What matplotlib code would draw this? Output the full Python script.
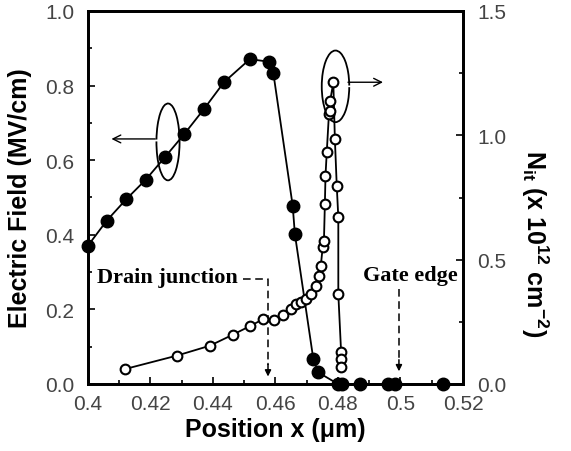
import matplotlib
matplotlib.use("Agg")
import matplotlib.pyplot as plt
from matplotlib.patches import Arc
from matplotlib.ticker import MultipleLocator

plt.rcParams['font.family'] = ['Liberation Sans', 'DejaVu Sans']
plt.rcParams['axes.unicode_minus'] = False

# Electric field (left axis, filled circles)
ef_x = [0.4000, 0.4060, 0.4122, 0.4185, 0.4246, 0.4308, 0.4371, 0.4435, 0.4518,
        0.4579, 0.4593, 0.4655, 0.4662, 0.4721, 0.4737, 0.4800, 0.4812, 0.4870,
        0.4960, 0.4982, 0.5136]
ef_y = [0.371, 0.438, 0.495, 0.548, 0.608, 0.670, 0.737, 0.809, 0.871,
        0.864, 0.834, 0.478, 0.402, 0.067, 0.031, 0.0, 0.0, 0.0,
        0.0, 0.0, 0.0]

# Interface trap density Nit (right axis, open circles)
nit_x = [0.4118, 0.4284, 0.4390, 0.4463, 0.4520, 0.4561, 0.4596, 0.4625, 0.4649,
         0.4665, 0.4682, 0.4697, 0.4713, 0.4729, 0.4739, 0.4745, 0.4751, 0.4755,
         0.4758, 0.4760, 0.4764, 0.4771, 0.4773, 0.4775, 0.4785, 0.4790, 0.4796,
         0.4801, 0.4801, 0.4810, 0.4810, 0.4810]
nit_y = [0.060, 0.114, 0.154, 0.198, 0.234, 0.261, 0.257, 0.277, 0.302,
         0.322, 0.329, 0.342, 0.362, 0.395, 0.436, 0.476, 0.550, 0.576,
         0.724, 0.838, 0.932, 1.086, 1.099, 1.139, 1.213, 0.985, 0.797,
         0.670, 0.362, 0.127, 0.100, 0.067]

x_ticks = [0.40, 0.42, 0.44, 0.46, 0.48, 0.50, 0.52]
x_ticklabels = ['0.4', '0.42', '0.44', '0.46', '0.48', '0.5', '0.52']
left_ticks = [0.0, 0.2, 0.4, 0.6, 0.8, 1.0]
left_ticklabels = ['0.0', '0.2', '0.4', '0.6', '0.8', '1.0']
right_ticks = [0.0, 0.5, 1.0, 1.5]
right_ticklabels = ['0.0', '0.5', '1.0', '1.5']

fig = plt.figure(figsize=(5.71, 4.52), dpi=100)
ax = fig.add_axes([88/571, 1-385/452, (463-88)/571, (385-12)/452])
ax2 = ax.twinx()

tick_color = '#444444'
ax.plot(ef_x, ef_y, color='k', lw=1.3, marker='o', ms=9, mfc='k', mec='k', zorder=3, clip_on=False)
ax2.plot(nit_x, nit_y, color='k', lw=1.3, marker='o', ms=7, mfc='white', mec='k', mew=1.5, zorder=3, clip_on=False)

ax.set_xlim(0.4, 0.52)
ax.set_ylim(0, 1.0)
ax2.set_ylim(0, 1.5)
ax.set_xticks(x_ticks, x_ticklabels)
ax.set_yticks(left_ticks, left_ticklabels)
ax2.set_yticks(right_ticks, right_ticklabels)
ax.xaxis.set_minor_locator(MultipleLocator(0.01))
ax.yaxis.set_minor_locator(MultipleLocator(0.1))
ax2.yaxis.set_minor_locator(MultipleLocator(0.25))

ax.tick_params(axis='both', which='both', direction='in', labelsize=15, labelcolor=tick_color,
               top=False, right=False, width=1.2)
ax.tick_params(which='major', length=5)
ax.tick_params(which='minor', length=3)
ax.tick_params(axis='x', pad=7)
ax.tick_params(axis='y', pad=10)
ax2.tick_params(axis='y', which='both', direction='in', labelsize=15, labelcolor=tick_color, width=1.2, pad=10)
ax2.tick_params(which='major', length=5)
ax2.tick_params(which='minor', length=3)

for a in (ax, ax2):
    for s in a.spines.values():
        s.set_linewidth(2.0)

ax.set_xlabel('Position x (μm)', fontsize=18, fontweight='bold', labelpad=3)
ax.set_ylabel('Electric Field (MV/cm)', fontsize=18, fontweight='bold',
              va='center', ha='center', rotation_mode='anchor')
ax.yaxis.set_label_coords(-0.18, 0.5)
ax2.set_ylabel(r'N$_{\mathregular{it}}$ (x 10$^{\mathregular{12}}$ cm$^{\mathregular{-2}}$)',
               fontsize=18, fontweight='bold', rotation=270,
               va='center', ha='center', rotation_mode='anchor')
ax2.yaxis.set_label_coords(1.19, 0.38)

# Curly loops + arrows indicating axes
ax.add_patch(Arc((0.4256, 0.649), 0.0074, 0.206, theta1=160, theta2=480, lw=1.3, color='k', zorder=4))
ax.annotate('', xy=(0.4075, 0.657), xytext=(0.4215, 0.657),
            arrowprops=dict(arrowstyle='->', lw=1.0, color='k', mutation_scale=14, shrinkA=0, shrinkB=0))
ax.add_patch(Arc((0.4792, 0.798), 0.0088, 0.192, theta1=26, theta2=334, lw=1.3, color='k', zorder=4))
ax.annotate('', xy=(0.4944, 0.809), xytext=(0.4832, 0.809),
            arrowprops=dict(arrowstyle='->', lw=1.0, color='k', mutation_scale=14, shrinkA=0, shrinkB=0))

# Text annotations
serif = ['Liberation Serif', 'DejaVu Serif']
ax.text(0.4029, 0.273, 'Drain junction', family=serif, fontsize=16, fontweight='bold', va='baseline', ha='left')
ax.plot([0.4496, 0.4576, 0.4576], [0.2815, 0.2815, 0.05], color='k', lw=1.1, ls=(0, (5, 3)))
ax.annotate('', xy=(0.4576, 0.020), xytext=(0.4576, 0.055),
            arrowprops=dict(arrowstyle='-|>', lw=1.1, color='k', mutation_scale=9, shrinkA=0, shrinkB=0))
ax.text(0.4880, 0.279, 'Gate edge', family=serif, fontsize=16, fontweight='bold', va='baseline', ha='left')
ax.plot([0.4995, 0.4995], [0.255, 0.06], color='k', lw=1.1, ls=(0, (5, 3)))
ax.annotate('', xy=(0.4995, 0.034), xytext=(0.4995, 0.065),
            arrowprops=dict(arrowstyle='-|>', lw=1.1, color='k', mutation_scale=9, shrinkA=0, shrinkB=0))

fig.savefig('out.png', dpi=100)
